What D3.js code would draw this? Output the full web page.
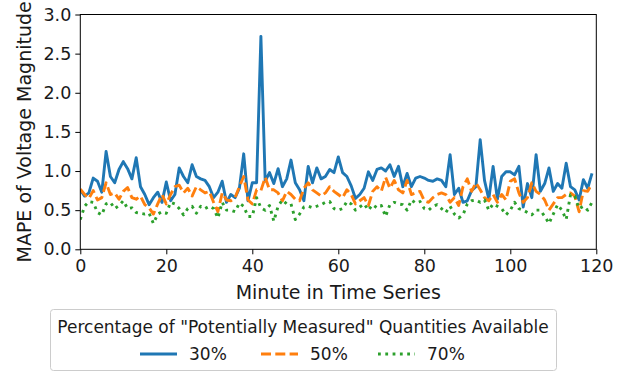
<!DOCTYPE html>
<html><head><meta charset="utf-8">
<script src="https://cdn.jsdelivr.net/npm/d3@7"></script>
<style>body{margin:0;background:#fff}svg{display:block}text{font-family:"DejaVu Sans",sans-serif;fill:#1a1a1a}</style>
</head><body>
<svg id="c" width="629" height="373"></svg>
<script>
const minutes = d3.range(0, 120);
const series30 = [0.76,0.68,0.72,0.91,0.87,0.73,1.25,0.93,0.85,1.02,1.12,1.03,0.90,1.17,0.80,0.70,0.57,0.66,0.73,0.60,
0.86,0.62,0.70,1.04,0.93,0.85,1.08,0.93,0.90,0.88,0.80,0.66,0.73,0.87,0.60,0.70,0.66,0.78,1.22,0.62,
0.85,0.85,2.72,0.87,0.98,0.84,1.03,0.80,0.90,1.14,0.85,0.76,0.62,1.06,0.85,1.04,0.90,0.93,1.02,0.98,
1.18,0.98,0.93,0.81,0.65,0.70,0.78,0.99,0.88,1.02,1.04,1.00,1.08,0.93,1.06,0.80,0.97,0.80,0.91,0.93,
0.91,0.88,0.87,0.90,0.88,0.80,1.21,0.70,0.78,0.60,0.62,0.75,0.80,1.40,0.88,0.64,1.06,0.64,0.93,0.99,
0.99,0.95,1.06,0.54,0.84,0.66,1.21,0.74,0.84,1.04,0.74,0.84,0.78,1.10,0.80,0.76,0.63,0.89,0.78,0.97];
const series50 = [0.77,0.70,0.65,0.75,0.63,0.66,0.85,0.70,0.72,0.64,0.74,0.79,0.66,0.64,0.68,0.57,0.53,0.45,0.58,0.70,
0.58,0.70,0.80,0.82,0.72,0.78,0.68,0.80,0.76,0.72,0.74,0.60,0.48,0.72,0.63,0.62,0.66,0.80,0.93,0.63,
0.58,0.76,0.75,0.92,0.76,0.76,0.72,0.62,0.74,0.70,0.64,0.62,0.78,0.85,0.76,0.72,0.68,0.72,0.80,0.74,
0.70,0.66,0.76,0.70,0.58,0.62,0.66,0.56,0.74,0.80,0.74,0.92,0.78,0.88,0.76,0.72,0.88,0.70,0.72,0.74,
0.62,0.60,0.66,0.70,0.72,0.70,0.60,0.66,0.56,0.80,0.90,0.74,0.85,0.76,0.66,0.62,0.70,0.60,0.70,0.63,
0.87,0.90,0.72,0.60,0.66,0.85,0.74,0.70,0.63,0.50,0.58,0.66,0.66,0.70,0.72,0.68,0.48,0.75,0.74,0.84];
const series70 = [0.38,0.55,0.61,0.60,0.47,0.44,0.58,0.60,0.52,0.56,0.62,0.52,0.53,0.47,0.46,0.45,0.46,0.33,0.45,0.48,
0.46,0.60,0.58,0.52,0.44,0.52,0.55,0.46,0.55,0.52,0.55,0.52,0.40,0.60,0.50,0.50,0.48,0.59,0.55,0.42,
0.42,0.66,0.53,0.50,0.56,0.36,0.55,0.63,0.58,0.58,0.38,0.45,0.54,0.55,0.53,0.55,0.57,0.60,0.61,0.52,
0.50,0.52,0.61,0.58,0.50,0.54,0.58,0.50,0.57,0.53,0.56,0.42,0.57,0.60,0.58,0.57,0.50,0.63,0.59,0.61,
0.52,0.50,0.55,0.57,0.52,0.47,0.55,0.45,0.40,0.44,0.58,0.62,0.63,0.60,0.63,0.50,0.58,0.55,0.52,0.44,
0.50,0.60,0.52,0.50,0.47,0.44,0.50,0.50,0.42,0.33,0.45,0.57,0.50,0.38,0.70,0.68,0.52,0.55,0.50,0.60];
const seriesNames = ["30%", "50%", "70%"];
const xTicks = [0,20,40,60,80,100,120];
const yTicks = [0,0.5,1.0,1.5,2.0,2.5,3.0];
const xLabel = "Minute in Time Series";
const yLabel = "MAPE of Voltage Magnitude";
const legendTitle = 'Percentage of "Potentially Measured" Quantities Available';

const colors = ["#1f77b4", "#ff7f0e", "#2ca02c"];
const dashes = [null, "10,4.3", "2.8,4.5"];
const allSeries = [series30, series50, series70];

const svg = d3.select("#c");
const L = 80.3, R = 596.3, T = 14.5, B = 249.3;
const x = d3.scaleLinear().domain([0,120]).range([L,R]);
const y = d3.scaleLinear().domain([0,3]).range([B,T]);

svg.append("defs").append("clipPath").attr("id","clp").append("rect")
  .attr("x",L).attr("y",T).attr("width",R-L).attr("height",B-T);

const line = d3.line().x((d,i)=>x(minutes[i])).y(d=>y(d));
allSeries.forEach((s,k)=>{
  svg.append("path").datum(s).attr("d",line).attr("fill","none")
    .attr("stroke",colors[k]).attr("stroke-width",2.9)
    .attr("stroke-dasharray",dashes[k]).attr("stroke-linejoin","round")
    .attr("clip-path","url(#clp)");
});

const fs = 17.5, fl = 19;
const xa = svg.append("g").attr("transform",`translate(0,${B})`)
  .call(d3.axisBottom(x).tickValues(xTicks).tickFormat(d3.format("d")).tickSize(5).tickPadding(5));
const ya = svg.append("g").attr("transform",`translate(${L},0)`)
  .call(d3.axisLeft(y).tickValues(yTicks).tickFormat(d3.format(".1f")).tickSize(5).tickPadding(4));
[xa,ya].forEach(a=>{
  a.select(".domain").remove();
  a.selectAll("line").attr("stroke","#000").attr("stroke-width",1);
  a.selectAll("text").attr("font-size",fs).attr("font-family","DejaVu Sans").attr("fill","#1a1a1a");
});
svg.append("rect").attr("x",L).attr("y",T).attr("width",R-L).attr("height",B-T)
  .attr("fill","none").attr("stroke","#000").attr("stroke-width",1);

svg.append("text").attr("x",(L+R)/2).attr("y",299).attr("text-anchor","middle")
  .attr("font-size",fl).text(xLabel);
svg.append("text").attr("transform",`translate(31,${(T+B)/2}) rotate(-90)`)
  .attr("text-anchor","middle").attr("font-size",fl).text(yLabel);

// legend
const lg = svg.append("g");
lg.append("rect").attr("x",50.5).attr("y",309.5).attr("width",506).attr("height",61)
  .attr("rx",3).attr("fill","#fff").attr("stroke","#ccc").attr("stroke-width",1);
lg.append("text").attr("x",303).attr("y",333).attr("text-anchor","middle")
  .attr("font-size",17).text(legendTitle);
const hx = [140, 261, 378];
seriesNames.forEach((n,k)=>{
  lg.append("line").attr("x1",hx[k]).attr("x2",hx[k]+37).attr("y1",354).attr("y2",354)
    .attr("stroke",colors[k]).attr("stroke-width",2.9).attr("stroke-dasharray",dashes[k]);
  lg.append("text").attr("x",hx[k]+49).attr("y",360).attr("font-size",17).text(n);
});
</script>
</body></html>
